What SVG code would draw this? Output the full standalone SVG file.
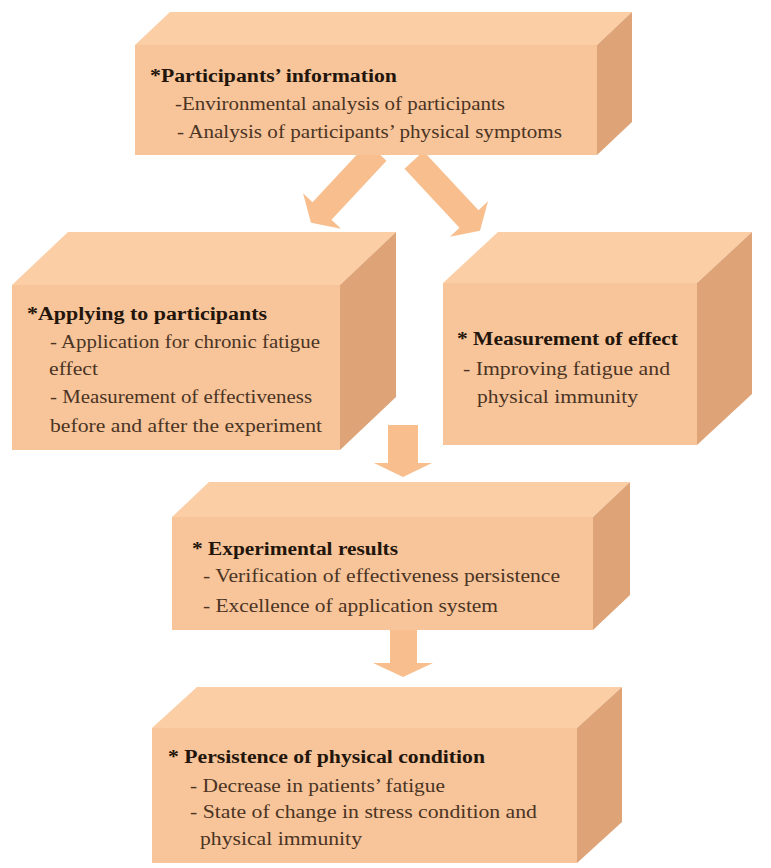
<svg xmlns="http://www.w3.org/2000/svg" width="771" height="868" viewBox="0 0 771 868">
<style>
.front{fill:#F8C49A}
.top{fill:#FBCEA6}
.side{fill:#DEA477}
.arrow{fill:#F8BE8D}
text{font-size:18px;fill:#4a3424}
.h{font-weight:bold;fill:#22150b}
</style>
<rect width="771" height="868" fill="#ffffff"/>
<g id="connectors">
<polygon class="arrow" points="367.5,143.2 386.5,160.8 331.5,219.8 341,228.7 311,222.7 303,193.3 312.5,202.2"/>
<polygon class="arrow" points="423.5,151.2 404.5,168.8 459.5,227.8 450,236.7 480,230.7 488,201.3 478.5,210.2"/>
<polygon class="arrow" points="388,425 418,425 418,463 432,463 403,477 374,463 388,463"/>
<polygon class="arrow" points="390,625 417,625 417,663 433,663 403,677 373,663 390,663"/>
</g>
<g font-family="'Liberation Serif', 'Times New Roman', serif">
<g id="participants-info">
<polygon class="top" points="135,45 170,12 632,12 597,45"/>
<polygon class="side" points="597,45 632,12 632,122 597,155"/>
<rect class="front" x="135" y="45" width="462" height="110"/>
<text class="h" x="150" y="82" textLength="247" lengthAdjust="spacingAndGlyphs">*Participants’ information</text>
<text x="175" y="110" textLength="330" lengthAdjust="spacingAndGlyphs">-Environmental analysis of participants</text>
<text x="177" y="138" textLength="385" lengthAdjust="spacingAndGlyphs">- Analysis of participants’ physical symptoms</text>
</g>
<g id="applying">
<polygon class="top" points="12,285 68,232 396,232 340,285"/>
<polygon class="side" points="340,285 396,232 396,397 340,450"/>
<rect class="front" x="12" y="285" width="328" height="165"/>
<text class="h" x="27" y="320" textLength="240" lengthAdjust="spacingAndGlyphs">*Applying to participants</text>
<text x="50" y="348" textLength="270" lengthAdjust="spacingAndGlyphs">- Application for chronic fatigue</text>
<text x="49" y="375" textLength="49" lengthAdjust="spacingAndGlyphs">effect</text>
<text x="50" y="403" textLength="262" lengthAdjust="spacingAndGlyphs">- Measurement of effectiveness</text>
<text x="50" y="432" textLength="272" lengthAdjust="spacingAndGlyphs">before and after the experiment</text>
</g>
<g id="measurement">
<polygon class="top" points="443,283 498,232 752,232 697,283"/>
<polygon class="side" points="697,283 752,232 752,394 697,445"/>
<rect class="front" x="443" y="283" width="254" height="162"/>
<text class="h" x="457" y="345" textLength="221" lengthAdjust="spacingAndGlyphs">* Measurement of effect</text>
<text x="463" y="375" textLength="207" lengthAdjust="spacingAndGlyphs">- Improving fatigue and</text>
<text x="477" y="403" textLength="161" lengthAdjust="spacingAndGlyphs">physical immunity</text>
</g>
<g id="results">
<polygon class="top" points="172,517 209,482 630,482 593,517"/>
<polygon class="side" points="593,517 630,482 630,595 593,630"/>
<rect class="front" x="172" y="517" width="421" height="113"/>
<text class="h" x="192" y="555" textLength="206" lengthAdjust="spacingAndGlyphs">* Experimental results</text>
<text x="203" y="582" textLength="357" lengthAdjust="spacingAndGlyphs">- Verification of effectiveness persistence</text>
<text x="203" y="612" textLength="295" lengthAdjust="spacingAndGlyphs">- Excellence of application system</text>
</g>
<g id="persistence">
<polygon class="top" points="152,728 197,687 622,687 577,728"/>
<polygon class="side" points="577,728 622,687 622,822 577,863"/>
<rect class="front" x="152" y="728" width="425" height="135"/>
<text class="h" x="168" y="763" textLength="317" lengthAdjust="spacingAndGlyphs">* Persistence of physical condition</text>
<text x="190" y="792" textLength="255" lengthAdjust="spacingAndGlyphs">- Decrease in patients’ fatigue</text>
<text x="190" y="818" textLength="347" lengthAdjust="spacingAndGlyphs">- State of change in stress condition and</text>
<text x="200" y="845" textLength="162" lengthAdjust="spacingAndGlyphs">physical immunity</text>
</g>
</g>
</svg>
